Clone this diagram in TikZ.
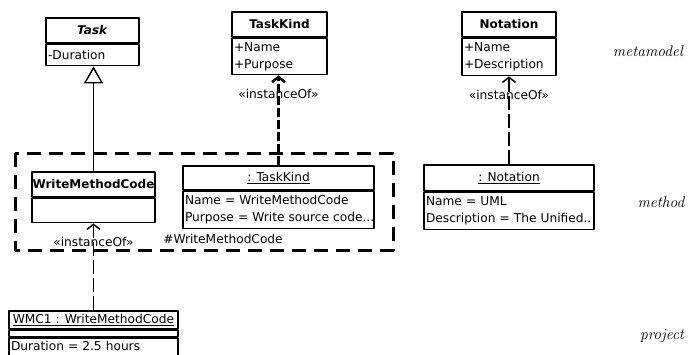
\documentclass[tikz,border=0pt]{standalone}
\usepackage{fontspec}
\setsansfont{DejaVu Sans}
\usetikzlibrary{positioning,arrows.meta}
\begin{document}
\begin{tikzpicture}[x=1pt,y=-1pt,line join=round,
	font=\sffamily\fontsize{12.2}{17}\selectfont,
	hdr/.style={draw,line width=1.6pt,inner sep=0pt,font=\sffamily\bfseries\fontsize{12}{14}\selectfont},
	obj/.style={draw,line width=1.6pt,inner sep=0pt},
	att/.style={draw,line width=1.6pt,inner xsep=2pt,inner ysep=1pt,align=left},
	inst/.style={line width=1.5pt,dash pattern=on 14pt off 4pt,-{Straight Barb[length=5pt,width=13pt]}},
	lab/.style={pos=0.79,inner sep=1pt},
	lvl/.style={font=\rmfamily\itshape\fontsize{15.5}{18}\selectfont}]
	\useasboundingbox[fill=white] (0,0) rectangle (691,354);
	
	% metamodel
	\node[hdr,minimum width=93pt,minimum height=25pt] (task) at (92.5,30.5) {\textit{Task}};
	\node[att,text width=89pt,minimum height=21pt,below=0pt of task] (taskA) {-Duration};
	\node[hdr,minimum width=95pt,minimum height=25pt] (kind) at (279.5,24.5) {TaskKind};
	\node[att,text width=91pt,minimum height=36pt,below=0pt of kind] (kindA) {+Name\\+Purpose};
	\node[hdr,minimum width=94pt,minimum height=25pt] (nota) at (509,24.5) {Notation};
	\node[att,text width=90pt,minimum height=37pt,below=0pt of nota] (notaA) {+Name\\+Description};
	
	% method
	\draw[line width=3pt,dash pattern=on 14pt off 8pt] (15,153) rectangle (393,250);
	\node[hdr,minimum width=123pt,minimum height=25pt] (wmc) at (93.5,184.5) {WriteMethodCode};
	\node[att,text width=119pt,minimum height=24pt,below=0pt of wmc] (wmcA) {};
	\node[obj,minimum width=191pt,minimum height=24pt] (kindO) at (278.5,178) {\underline{: TaskKind}};
	\node[att,text width=187pt,minimum height=37pt,below=0pt of kindO] (kindOA) {\mbox{Name = WriteMethodCode}\\\mbox{Purpose = Write source code...}};
	\node[obj,minimum width=170pt,minimum height=26pt] (notaO) at (509,178) {\underline{: Notation}};
	\node[att,text width=166pt,minimum height=37pt,below=0pt of notaO] (notaOA) {\mbox{Name = UML}\\\mbox{Description = The Unified..}};
	\node (pkg) at (223,239) {\#WriteMethodCode};
	
	% project
	\node[obj,minimum width=169pt,minimum height=18pt] (wmc1) at (93.5,320) {\underline{WMC1 : WriteMethodCode}};
	\node[obj,minimum width=169pt,minimum height=6pt,below=0pt of wmc1] (wmc1M) {};
	\node[att,text width=165pt,text depth=8pt,minimum height=24pt,below=0pt of wmc1M] (wmc1A) {\mbox{Duration = 2.5 hours}};
	
	\node[lvl] (lmeta) at (648,51) {metamodel};
	\node[lvl] (lmeth) at (661,202) {method};
	\node[lvl] (lproj) at (662,336) {project};
	
	% links
	\draw[line width=1.4pt,-{Triangle[open,length=17pt,width=19pt,line width=1.4pt]}] (wmc.north) -- (wmc.north |- taskA.south);
	\draw[inst,line width=2.6pt,dash pattern=on 9pt off 3pt] (kindO.north) -- (kindO.north |- kindA.south) node[lab]{«instanceOf»};
	\draw[inst] (notaO.north) -- (notaA.south) node[lab]{«instanceOf»};
	\draw[inst] (wmc1.north) -- (wmc1.north |- wmcA.south) node[lab]{«instanceOf»};
\end{tikzpicture}
\end{document}
